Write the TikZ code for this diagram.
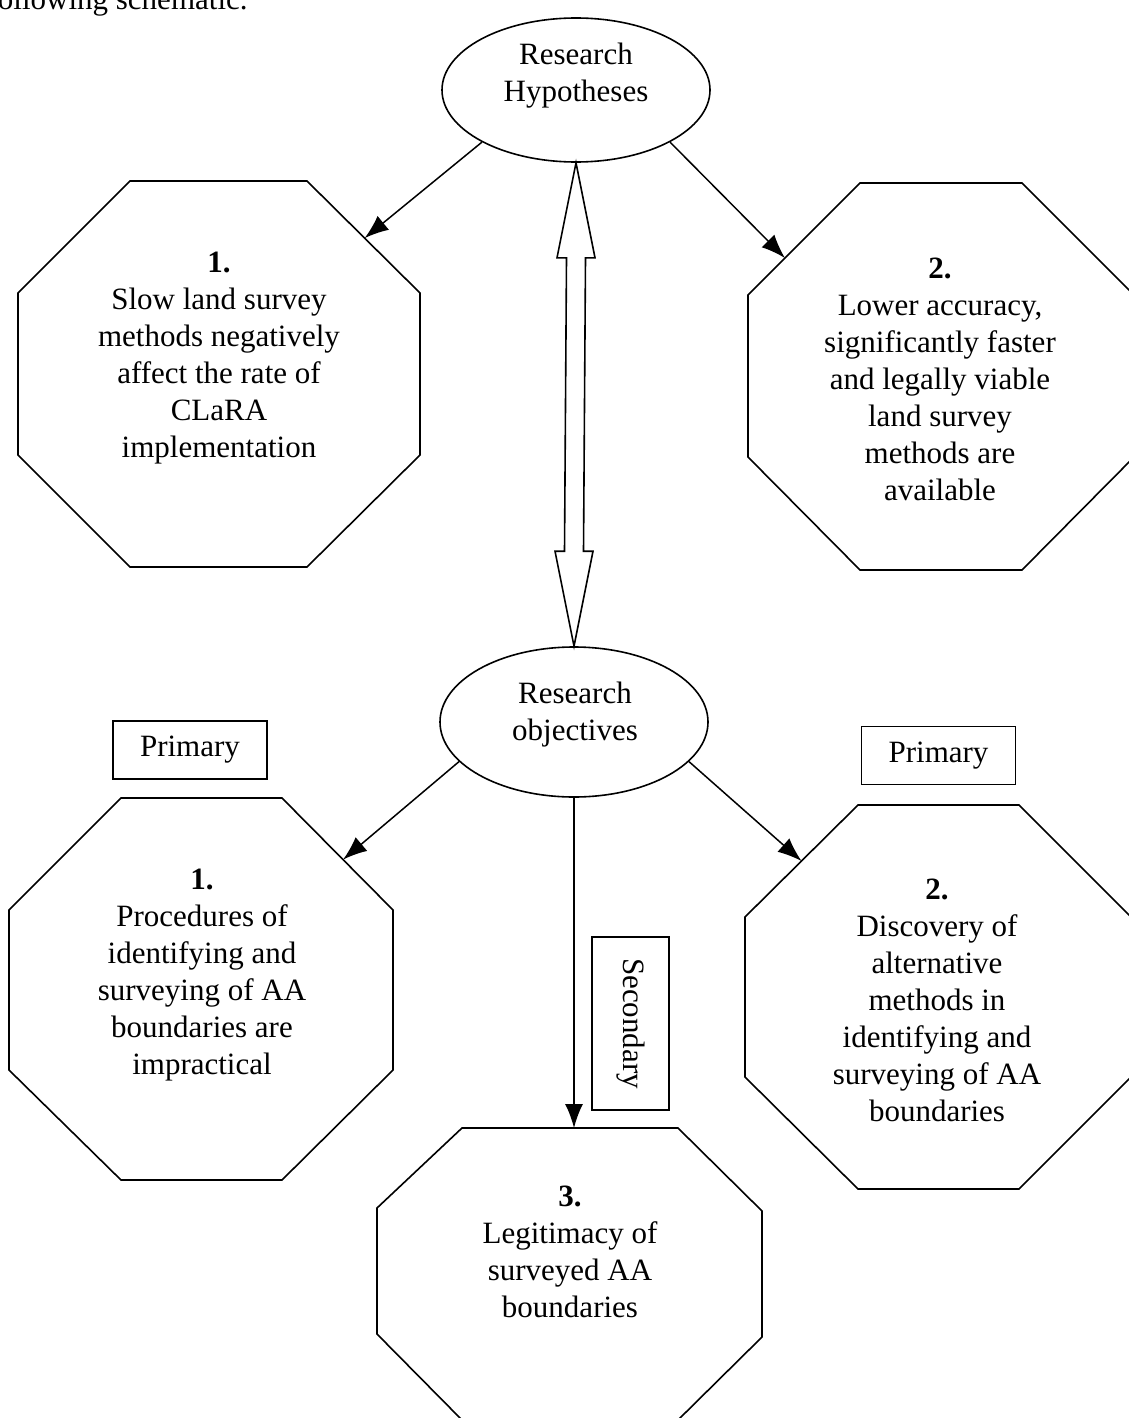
\documentclass[tikz,border=0pt]{standalone}
\usepackage{fontspec}
\setmainfont{Liberation Serif}
\usetikzlibrary{shapes.geometric,arrows.meta,calc}
\begin{document}
\begin{tikzpicture}[x=0.5pt,y=-0.5pt,
  every node/.style={font=\fontsize{15.5}{18.5}\selectfont},
  txt/.style={align=center, inner sep=0pt},
  oval/.style={draw, ellipse, line width=0.8pt, minimum width=134pt, inner sep=0pt},
  octo/.style={draw, line width=0.8pt},
  tag/.style={draw, line width=0.9pt, minimum width=77pt, minimum height=29pt, inner sep=0pt},
  arr/.style={line width=0.75pt, -{Latex[length=12pt,width=9pt]}},
  dbl/.style={draw, line width=0.8pt, fill=white, line join=miter},
]
\fill[white] (0,0) rectangle (1129,1418);
\useasboundingbox (0,0) rectangle (1129,1418);
\clip (0,0) rectangle (1129,1418);

% partial caption at the top edge
\node[anchor=base east, inner sep=0pt] (intro) at (248,10) {following schematic.};

% ellipses
\node[oval, minimum height=72pt] (hyp) at (576,90) {};
\node[txt] (hyptext) at (576,76) {Research\\Hypotheses};
\node[oval, minimum height=75pt] (obj) at (574,722) {};
\node[txt] (objtext) at (575,715) {Research\\objectives};

% octagons
\draw[octo] (130,181) coordinate (o1-1) -- (307,181) coordinate (o1-2) -- (420,293) coordinate (o1-3) -- (420,455) coordinate (o1-4)
  -- (307,567) coordinate (o1-5) -- (130,567) coordinate (o1-6) -- (18,455) coordinate (o1-7) -- (18,293) coordinate (o1-8) -- cycle;
\node[txt] (t1) at (219,358) {\textbf{1.}\\Slow land survey\\methods negatively\\affect the rate of\\CLaRA\\implementation};

\draw[octo] (860,183) coordinate (o2-1) -- (1022,183) coordinate (o2-2) -- (1134,295) coordinate (o2-3) -- (1134,457) coordinate (o2-4)
  -- (1022,570) coordinate (o2-5) -- (860,570) coordinate (o2-6) -- (748,457) coordinate (o2-7) -- (748,295) coordinate (o2-8) -- cycle;
\node[txt] (t2) at (940,379) {\textbf{2.}\\Lower accuracy,\\significantly faster\\and legally viable\\land survey\\methods are\\available};

\draw[octo] (121,798) coordinate (o4-1) -- (282,798) coordinate (o4-2) -- (393,910) coordinate (o4-3) -- (393,1070) coordinate (o4-4)
  -- (282,1180) coordinate (o4-5) -- (121,1180) coordinate (o4-6) -- (9,1070) coordinate (o4-7) -- (9,910) coordinate (o4-8) -- cycle;
\node[txt] (t4) at (202,975) {\textbf{1.}\\Procedures of\\identifying and\\surveying of AA\\boundaries are\\impractical};

\draw[octo] (858,805) coordinate (o5-1) -- (1019,805) coordinate (o5-2) -- (1131,917) coordinate (o5-3) -- (1131,1077) coordinate (o5-4)
  -- (1019,1189) coordinate (o5-5) -- (858,1189) coordinate (o5-6) -- (745,1077) coordinate (o5-7) -- (745,917) coordinate (o5-8) -- cycle;
\node[txt] (t5) at (937,1000) {\textbf{2.}\\Discovery of\\alternative\\methods in\\identifying and\\surveying of AA\\boundaries};

\draw[octo] (462,1128) coordinate (o3-1) -- (678,1128) coordinate (o3-2) -- (762,1211) coordinate (o3-3) -- (762,1337) coordinate (o3-4)
  -- (678,1420) coordinate (o3-5) -- (462,1420) coordinate (o3-6) -- (377,1334) coordinate (o3-7) -- (377,1208) coordinate (o3-8) -- cycle;
\node[txt] (t3) at (570,1252) {\textbf{3.}\\Legitimacy of\\surveyed AA\\boundaries};

% arrow entry points on octagon borders
\coordinate (in1) at ($(o1-2)!0.51!(o1-3)$);
\coordinate (in2) at ($(o2-8)!0.33!(o2-1)$);
\coordinate (in4) at ($(o4-2)!0.55!(o4-3)$);
\coordinate (in5) at ($(o5-8)!0.5!(o5-1)$);

% labels
\node[tag] (prim1) at (190,750) {Primary};
\node[tag] (prim2) at (938.5,755.5) {Primary};
\node[tag, rotate=-90, minimum width=86.5pt, minimum height=38.5pt] (sec) at (630.5,1023.5) {Secondary};

% double arrow between hypotheses and objectives
\path[dbl] (hyp.south) -- ($(hyp.south)+(19,95)$) -- ($(hyp.south)+(9.5,95)$) -- ($(obj.north)+(9.5,-95)$)
  -- ($(obj.north)+(19,-95)$) -- (obj.north) -- ($(obj.north)+(-19,-95)$) -- ($(obj.north)+(-9.5,-95)$)
  -- ($(hyp.south)+(-9.5,95)$) -- ($(hyp.south)+(-19,95)$) -- cycle;

% arrows
\draw[arr] (hyp.209) -- (in1);
\draw[arr] (hyp.331) -- (in2);
\draw[arr] (obj.199.5) -- (in4);
\draw[arr] (obj.341) -- (in5);
\draw[arr] (obj.south) -- (obj.south |- o3-1);
\end{tikzpicture}
\end{document}
